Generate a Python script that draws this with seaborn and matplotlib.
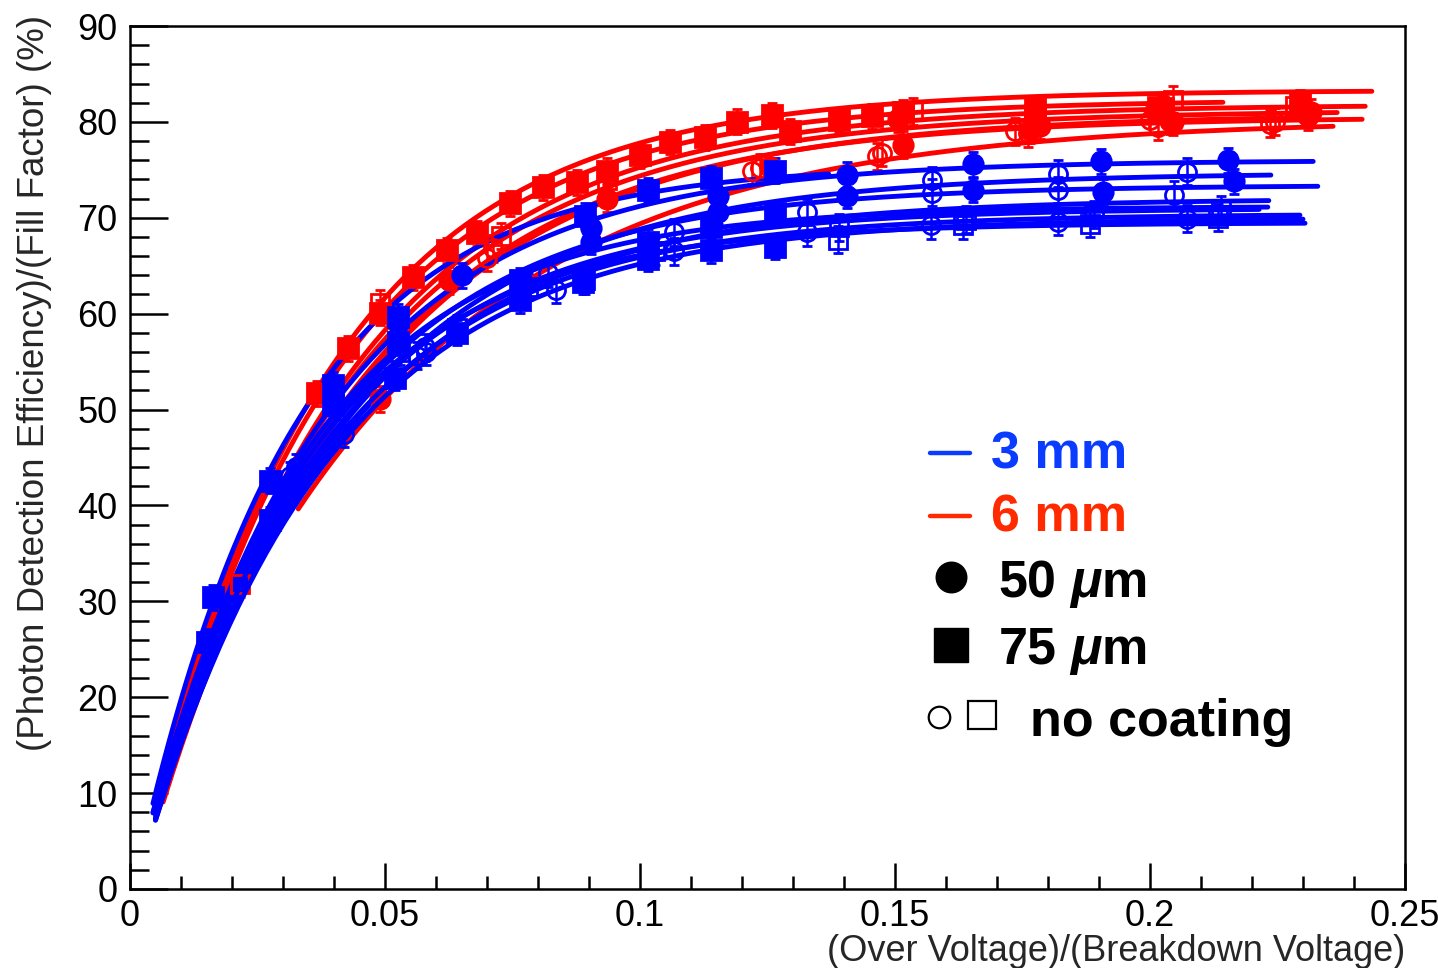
import numpy as np
import pandas as pd
import matplotlib
matplotlib.use("Agg")
import matplotlib.pyplot as plt
import seaborn as sns
from matplotlib.lines import Line2D
from matplotlib.ticker import MultipleLocator, FixedLocator, FixedFormatter

# ---------------- data ----------------
x_ticks = [0, 0.05, 0.1, 0.15, 0.2, 0.25]
x_tick_labels = ["0", "0.05", "0.1", "0.15", "0.2", "0.25"]
y_ticks = [0, 10, 20, 30, 40, 50, 60, 70, 80, 90]
y_tick_labels = ["0", "10", "20", "30", "40", "50", "60", "70", "80", "90"]

# 6 mm devices (red)
r1_x = [0.0367, 0.049, 0.0622, 0.0745, 0.0876, 0.1000, 0.1127, 0.1259, 0.1390, 0.1515, 0.1775, 0.2025, 0.2295]
r1_y = [51.7, 60.1, 66.6, 71.5, 73.7, 76.5, 78.4, 80.7, 80.2, 81.0, 81.3, 81.5, 82.0]
r2_x = [0.0427, 0.0555, 0.0680, 0.0810, 0.0935, 0.1059, 0.1190, 0.1295, 0.1455, 0.1775, 0.2015]
r2_y = [56.4, 63.8, 68.4, 73.2, 74.9, 77.9, 80.0, 79.0, 80.6, 80.4, 81.6]
r3_x = [0.049, 0.1255, 0.1515, 0.1765, 0.2045, 0.2310]
r3_y = [51.1, 75.3, 77.6, 79.2, 80.0, 80.6]
r4_x = [0.0625, 0.0935, 0.1505, 0.1785, 0.2040, 0.2315]
r4_y = [63.5, 72.0, 80.3, 79.6, 80.1, 81.0]
r5_x = [0.0712, 0.1235, 0.1465, 0.1735, 0.2000, 0.2245]
r5_y = [66.8, 75.2, 76.4, 79.0, 80.2, 80.0]
r6_x = [0.0215, 0.0490, 0.0728, 0.0935, 0.1535, 0.2045, 0.2285]
r6_y = [31.8, 61.1, 68.1, 73.9, 81.1, 82.3, 81.7]
r7_x = [0.0700, 0.1220, 0.1475, 0.1760, 0.2015, 0.2235]
r7_y = [65.8, 74.9, 76.8, 78.8, 79.5, 79.8]

# 3 mm devices (blue)
b1_x = [0.0398, 0.0525, 0.0650, 0.0904, 0.1153, 0.1406, 0.1653, 0.1904, 0.2153]
b1_y = [51.5, 59.0, 64.0, 68.9, 72.3, 74.5, 75.6, 75.9, 76.0]
b2_x = [0.0163, 0.0275, 0.0398, 0.0525, 0.0892, 0.1016, 0.1139, 0.1265]
b2_y = [30.4, 42.6, 52.6, 59.7, 70.2, 72.9, 74.1, 74.9]
b3_x = [0.0325, 0.0578, 0.1067, 0.1573, 0.1820, 0.2073]
b3_y = [44.0, 56.5, 68.5, 73.9, 74.6, 74.8]
b4_x = [0.0904, 0.1153, 0.1406, 0.1653, 0.1908, 0.2165]
b4_y = [67.5, 70.6, 72.3, 72.9, 72.7, 73.8]
b5_x = [0.0314, 0.0563, 0.0820, 0.1327, 0.1573, 0.1820, 0.2047]
b5_y = [43.1, 55.6, 64.2, 70.6, 72.6, 72.9, 72.4]
b6_x = [0.0151, 0.0275, 0.0520, 0.0641, 0.0765, 0.0888, 0.1016, 0.1139, 0.1265]
b6_y = [25.8, 38.5, 53.3, 58.0, 61.4, 63.3, 65.7, 66.6, 67.0]
b7_x = [0.0641, 0.0892, 0.1388, 0.1633, 0.1882, 0.2133]
b7_y = [58.5, 63.5, 67.7, 69.2, 69.4, 70.0]
b8_x = [0.0398, 0.0525, 0.0765, 0.1016, 0.1139, 0.1265]
b8_y = [50.5, 57.0, 63.5, 67.5, 69.0, 70.5]
b9_x = [0.0420, 0.0580, 0.0835, 0.1067, 0.1327, 0.1570, 0.1820, 0.2073]
b9_y = [47.5, 56.0, 62.5, 66.5, 68.5, 69.2, 69.6, 69.9]
b10_x = [0.0530, 0.0780, 0.1030, 0.1390, 0.1640, 0.1890, 0.2140]
b10_y = [56.0, 62.8, 66.5, 69.0, 69.8, 70.3, 70.9]

series_names = ["r1", "r2", "r3", "r4", "r5", "r6", "r7",
                "b1", "b2", "b3", "b4", "b5", "b6", "b7", "b8", "b9", "b10"]
series_size = ["6 mm"] * 7 + ["3 mm"] * 10
series_pitch = ["75", "75", "50", "50", "50", "75", "50",
                "50", "75", "50", "50", "50", "75", "75", "75", "50", "75"]
series_coated = [True, True, True, True, False, False, False,
                 True, True, False, True, False, True, False, True, False, False]
series_err = [1.3, 1.3, 1.4, 1.4, 1.4, 1.4, 1.4,
              1.3, 1.3, 1.4, 1.3, 1.4, 1.3, 1.4, 1.3, 1.4, 1.4]
# fit curves  y = plateau * (1 - exp(-(x - offset)/scale)), read from the drawn fits
fit_plateau = [83.3, 82.3, 80.3, 81.2, 80.5, 81.8, 80.8,
               76.0, 75.5, 74.7, 73.4, 72.0, 69.5, 70.4, 71.2, 70.0, 71.0]
fit_scale = [0.0365, 0.037, 0.051, 0.040, 0.041, 0.039, 0.042,
             0.036, 0.031, 0.039, 0.036, 0.038, 0.033, 0.036, 0.033, 0.037, 0.035]
fit_offset = [0.0008, 0.001, -0.0017, 0.001, 0.0012, 0.0014, 0.0015,
              0.0005, 0.0006, 0.001, 0.0008, 0.001, 0.0005, 0.001, 0.0008, 0.001, 0.001]
fit_xmin = [0.0055, 0.006, 0.033, 0.0058, 0.0062, 0.0062, 0.0065,
            0.0045, 0.0045, 0.005, 0.005, 0.005, 0.0045, 0.005, 0.005, 0.005, 0.005]
fit_xmax = [0.2435, 0.2143, 0.2359, 0.2367, 0.2416, 0.2422, 0.2290,
            0.2320, 0.1370, 0.2237, 0.2329, 0.2233, 0.2304, 0.2294, 0.2231, 0.2300, 0.2214]

point_data = {
    "r1": (r1_x, r1_y), "r2": (r2_x, r2_y), "r3": (r3_x, r3_y), "r4": (r4_x, r4_y),
    "r5": (r5_x, r5_y), "r6": (r6_x, r6_y), "r7": (r7_x, r7_y),
    "b1": (b1_x, b1_y), "b2": (b2_x, b2_y), "b3": (b3_x, b3_y), "b4": (b4_x, b4_y),
    "b5": (b5_x, b5_y), "b6": (b6_x, b6_y), "b7": (b7_x, b7_y), "b8": (b8_x, b8_y),
    "b9": (b9_x, b9_y), "b10": (b10_x, b10_y),
}

# ---------------- style ----------------
sns.set_style("ticks")
plt.rcParams["font.family"] = ["Liberation Sans", "DejaVu Sans"]
plt.rcParams["mathtext.fontset"] = "custom"
plt.rcParams["mathtext.rm"] = "Liberation Sans:bold"
plt.rcParams["mathtext.it"] = "Liberation Sans:italic:bold"
plt.rcParams["mathtext.bf"] = "Liberation Sans:bold"

size_colors = {"6 mm": "#ff0000", "3 mm": "#0000ff"}

W, H = 1438, 968
fig = plt.figure(figsize=(W / 100, H / 100), dpi=100)
fig.patch.set_facecolor("white")
ax = fig.add_axes([130 / W, 1 - 889 / H, 1275 / W, 863 / H])
ax.set_facecolor("white")

# ---------------- draw series ----------------
for i, name in enumerate(series_names):
    col = size_colors[series_size[i]]
    xs, ys = point_data[name]
    marker = "o" if series_pitch[i] == "50" else "s"
    mfc = col if series_coated[i] else "none"
    ax.errorbar(xs, ys, yerr=series_err[i], fmt=marker, ms=14 if series_coated[i] else 13,
                mfc=mfc, mec=col, mew=2.0, ecolor=col, elinewidth=1.8,
                capsize=3.6, capthick=1.8, linestyle="none", zorder=2 + i * 0.01)
    xg = np.linspace(fit_xmin[i], fit_xmax[i], 250)
    yg = fit_plateau[i] * (1 - np.exp(-(xg - fit_offset[i]) / fit_scale[i]))
    curve = pd.DataFrame({"x": xg, "y": yg})
    sns.lineplot(data=curve, x="x", y="y", ax=ax, color=col, linewidth=3.5,
                 sort=False, estimator=None, legend=False, zorder=2.005 + i * 0.01)

# ---------------- axes ----------------
ax.set_xlim(0, 0.25)
ax.set_ylim(0, 90)
ax.xaxis.set_major_locator(FixedLocator(x_ticks))
ax.xaxis.set_major_formatter(FixedFormatter(x_tick_labels))
ax.xaxis.set_minor_locator(MultipleLocator(0.01))
ax.yaxis.set_major_locator(FixedLocator(y_ticks))
ax.yaxis.set_major_formatter(FixedFormatter(y_tick_labels))
ax.yaxis.set_minor_locator(MultipleLocator(2))

for sp in ax.spines.values():
    sp.set_visible(True)
    sp.set_linewidth(1.8)
    sp.set_color("black")

ax.tick_params(axis="both", which="both", direction="in", top=False, right=False,
               colors="black", labelsize=26, width=1.8)
ax.tick_params(axis="y", which="major", length=27.5, pad=9)
ax.tick_params(axis="y", which="minor", length=13.7)
ax.tick_params(axis="x", which="major", length=18.7, pad=7)
ax.tick_params(axis="x", which="minor", length=9.4)

ax.set_xlabel("(Over Voltage)/(Breakdown Voltage)", fontsize=26, loc="right")
ax.xaxis.set_label_coords(1.0, -0.052)
ax.set_ylabel("(Photon Detection Efficiency)/(Fill Factor) (%)", fontsize=26.5, loc="top")
ax.yaxis.set_label_coords(-0.061, 1.013)

# ---------------- legend (manual, ROOT-like) ----------------
def fx(px):
    return px / W

def fy(py):
    return 1 - py / H

blue_txt = "#0a3cff"
red_txt = "#ff2a00"
fig.add_artist(Line2D([fx(930), fx(970)], [fy(453), fy(453)], color=blue_txt, lw=3.2))
fig.add_artist(Line2D([fx(930), fx(970)], [fy(516), fy(516)], color=red_txt, lw=3.2))
fig.add_artist(Line2D([fx(951)], [fy(577)], marker="o", ms=22, color="black", lw=0))
fig.add_artist(Line2D([fx(951)], [fy(645)], marker="s", ms=25, color="black", lw=0))
fig.add_artist(Line2D([fx(939)], [fy(717)], marker="o", ms=15.5, mfc="none", mec="black", mew=1.6, lw=0))
fig.add_artist(Line2D([fx(982)], [fy(715)], marker="s", ms=20.5, mfc="none", mec="black", mew=1.6, lw=0))

leg_fs = 37.5
fig.text(fx(991), fy(468), "3 mm", color=blue_txt, fontsize=leg_fs, fontweight="bold", va="baseline")
fig.text(fx(991), fy(532), "6 mm", color=red_txt, fontsize=leg_fs, fontweight="bold", va="baseline")
fig.text(fx(998), fy(597), r"50 $\mu$m", color="black", fontsize=leg_fs, fontweight="bold", va="baseline")
fig.text(fx(998), fy(664), r"75 $\mu$m", color="black", fontsize=leg_fs, fontweight="bold", va="baseline")
fig.text(fx(1030), fy(736), "no coating", color="black", fontsize=leg_fs, fontweight="bold", va="baseline")

fig.savefig("out.png", dpi=100, facecolor="white")
